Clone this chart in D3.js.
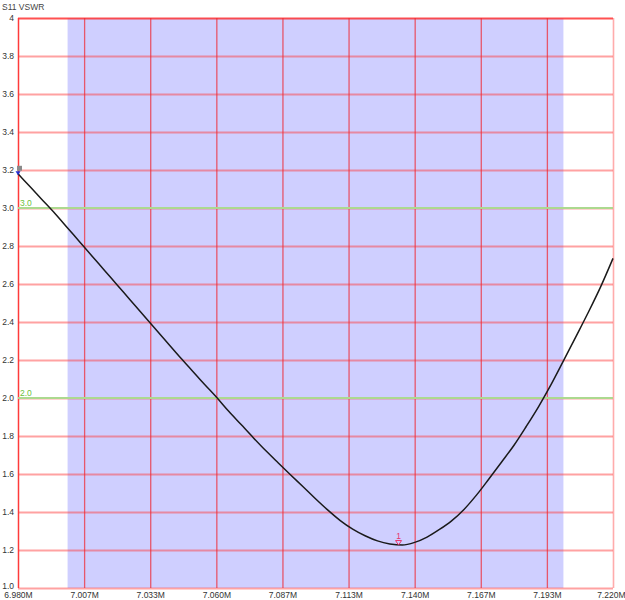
<!DOCTYPE html>
<html><head><meta charset="utf-8">
<script src="https://cdn.jsdelivr.net/npm/d3@7"></script>
<style>
html,body{margin:0;padding:0;background:#fff;}
svg text{font-family:"Liberation Sans",Arial,sans-serif;}
</style></head>
<body>
<svg id="chart" width="625" height="600"></svg>
<script>
// ---- data ----
const freqMHz = [6.980,6.985,6.990,6.995,7.000,7.005,7.010,7.015,7.020,7.025,7.030,7.035,7.040,7.045,7.050,7.055,7.060,7.065,7.070,7.075,7.080,7.085,7.090,7.095,7.100,7.105,7.110,7.115,7.120,7.125,7.130,7.135,7.140,7.145,7.150,7.155,7.160,7.165,7.170,7.175,7.180,7.185,7.190,7.195,7.200,7.205,7.210,7.215,7.220];
const vswr = [3.18,3.11,3.04,2.97,2.895,2.82,2.745,2.67,2.595,2.52,2.445,2.37,2.295,2.22,2.148,2.075,2.005,1.93,1.86,1.79,1.722,1.658,1.595,1.533,1.47,1.41,1.355,1.31,1.275,1.248,1.232,1.226,1.240,1.268,1.308,1.355,1.415,1.49,1.575,1.662,1.75,1.85,1.955,2.07,2.195,2.322,2.45,2.585,2.735];
const xTickValues = [6.98,7.006667,7.033333,7.06,7.086667,7.113333,7.14,7.166667,7.193333,7.22];
const xTickLabels = ["6.980M","7.007M","7.033M","7.060M","7.087M","7.113M","7.140M","7.167M","7.193M","7.220M"];
const yTickValues = [1.0,1.2,1.4,1.6,1.8,2.0,2.2,2.4,2.6,2.8,3.0,3.2,3.4,3.6,3.8,4.0];
const yTickLabels = ["1.0","1.2","1.4","1.6","1.8","2.0","2.2","2.4","2.6","2.8","3.0","3.2","3.4","3.6","3.8","4"];
const bandRange = [7.000, 7.200];
const limitLines = [3.0, 2.0];
const limitLabels = ["3.0", "2.0"];
const marker1 = {label:"1", freq:7.1335, value:1.226};
const title = "S11 VSWR";

// ---- layout ----
const svg = d3.select("#chart");
const L = 18, R = 613, T = 18, B = 588;
const x = d3.scaleLinear().domain([6.98, 7.22]).range([L, R]);
const y = d3.scaleLinear().domain([1, 4]).range([B, T]);

// band
svg.append("rect")
  .attr("x", x(bandRange[0])).attr("y", T)
  .attr("width", x(bandRange[1]) - x(bandRange[0]))
  .attr("height", B - T)
  .attr("fill", "#cfcfff");

// horizontal grid
const yGrid = d3.axisLeft(y).tickValues(yTickValues).tickSize(-(R - L)).tickFormat("");
const gy = svg.append("g").attr("transform", `translate(${L},0)`).call(yGrid);
gy.select(".domain").remove();
gy.selectAll(".tick line").attr("stroke", "rgba(255,60,60,0.48)").attr("stroke-width", 2);
gy.selectAll(".tick").filter(d => d === 4.0).select("line").attr("stroke", "rgba(255,50,50,0.85)");

// vertical grid
const xGrid = d3.axisBottom(x).tickValues(xTickValues).tickSize(-(B - T)).tickFormat("");
const gx = svg.append("g").attr("transform", `translate(0,${B})`).call(xGrid);
gx.select(".domain").remove();
gx.selectAll(".tick line").attr("stroke", "rgba(240,40,50,0.72)").attr("stroke-width", 1.3);
gx.selectAll(".tick").filter((d,i) => i === 0).select("line").attr("stroke", "#ff3b3b").attr("stroke-width", 1.5);
gx.selectAll(".tick").filter((d,i) => i === xTickValues.length - 1).select("line").attr("stroke", "rgba(255,90,90,0.5)").attr("stroke-width", 1.6);

// y labels
const yLab = d3.axisLeft(y).tickValues(yTickValues).tickSize(0).tickPadding(4)
  .tickFormat((d,i) => yTickLabels[i]);
const gyl = svg.append("g").attr("transform", `translate(${L},0)`).call(yLab);
gyl.select(".domain").remove();
gyl.selectAll("text").attr("font-size", 8.5).attr("fill", "#333").attr("font-family", "Liberation Sans, Arial, sans-serif");
gyl.selectAll(".tick").filter(d => d === 1.0).select("text").attr("dy", "0.1em");

// x labels
const xLab = d3.axisBottom(x).tickValues(xTickValues).tickSize(0).tickPadding(4)
  .tickFormat((d,i) => xTickLabels[i]);
const gxl = svg.append("g").attr("transform", `translate(0,${B})`).call(xLab);
gxl.select(".domain").remove();
gxl.selectAll("text").attr("font-size", 8.5).attr("fill", "#333").attr("font-family", "Liberation Sans, Arial, sans-serif");
gxl.selectAll(".tick").filter((d,i) => i === xTickValues.length - 1).select("text").attr("text-anchor", "end").attr("x", 12);

// limit lines
limitLines.forEach((v, i) => {
  svg.append("line").attr("x1", L).attr("x2", R).attr("y1", y(v)).attr("y2", y(v))
    .attr("stroke", "#acd98f").attr("stroke-width", 2);
  svg.append("text").attr("x", L + 2).attr("y", y(v) - 2)
    .attr("font-size", 8.5).attr("fill", "#6cbf3a").text(limitLabels[i]);
});

// curve
const pts = freqMHz.map((f, i) => [f, vswr[i]]);
svg.append("path").datum(pts)
  .attr("d", d3.line().x(d => x(d[0])).y(d => y(d[1])).curve(d3.curveMonotoneX))
  .attr("fill", "none").attr("stroke", "#1a1a1a").attr("stroke-width", 1.5);

// left-edge marker
const x0 = x(freqMHz[0]), y0 = y(vswr[0]);
svg.append("rect").attr("x", x0 - 1).attr("y", y0 - 8).attr("width", 5).attr("height", 5)
  .attr("fill", "#8a8a8a");
svg.append("path")
  .attr("d", `M${x0-2.5},${y0-2.5}L${x0+2.5},${y0-2.5}L${x0},${y0+1.5}Z`)
  .attr("fill", "#1f2fd0");

// marker 1
const mx = x(marker1.freq), my = y(marker1.value);
svg.append("path")
  .attr("d", `M${mx-3},${my-4.5}L${mx+3},${my-4.5}L${mx},${my}Z`)
  .attr("fill", "none").attr("stroke", "#e8336e").attr("stroke-width", 1);
svg.append("text").attr("x", mx).attr("y", my - 6.5).attr("text-anchor", "middle")
  .attr("font-size", 8.5).attr("fill", "#e8336e").text(marker1.label);

// title
svg.append("text").attr("x", 2).attr("y", 10).attr("font-size", 8.5).attr("fill", "#444").text(title);
</script>
</body></html>
